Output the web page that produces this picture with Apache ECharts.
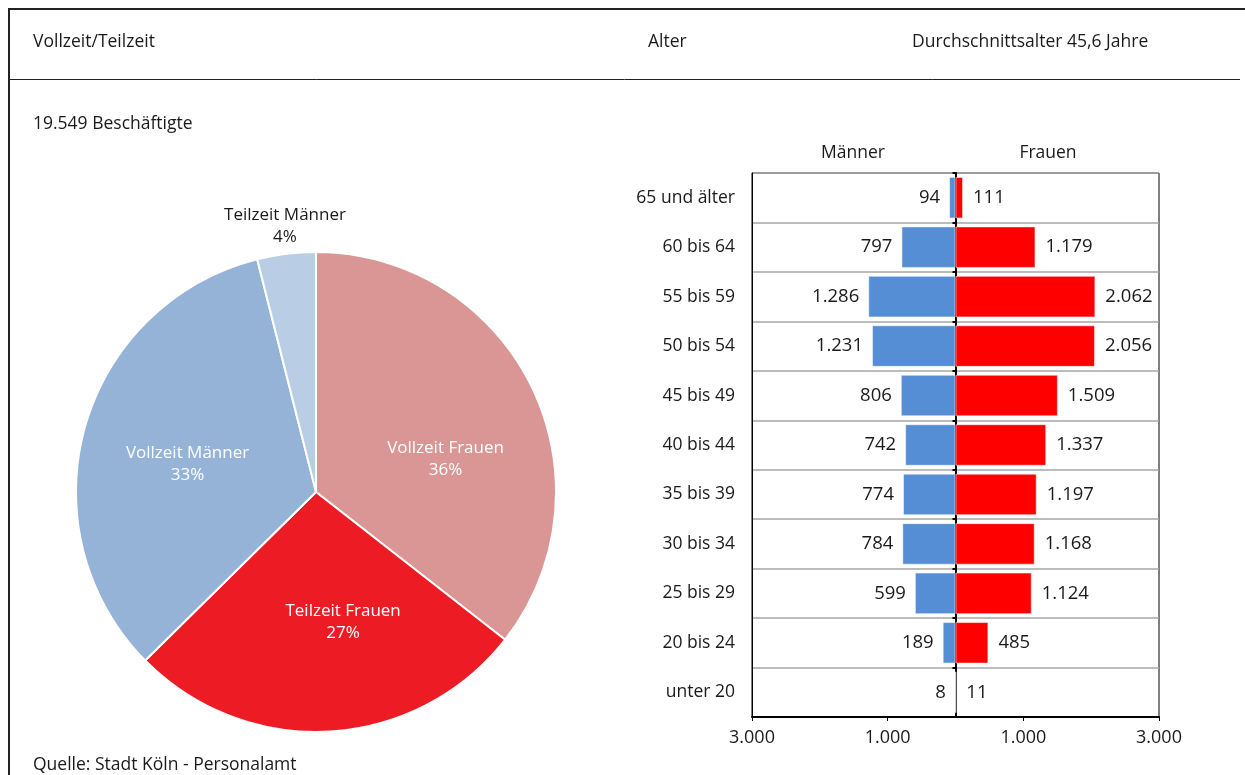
<!DOCTYPE html>
<html>
<head>
<meta charset="utf-8">
<script src="https://cdn.jsdelivr.net/npm/echarts@6/dist/echarts.min.js"></script>
<style>
html, body { margin: 0; padding: 0; background: #fff; }
#main { width: 1245px; height: 775px; }
</style>
</head>
<body>
<div id="main"></div>
<script>
// Vollzeit/Teilzeit
var pieNames = ['Vollzeit Frauen', 'Teilzeit Frauen', 'Vollzeit Männer', 'Teilzeit Männer'];
var pieValues = [6950, 5289, 6540, 770];
var pieColors = ['#d99694', '#ed1c24', '#95b3d7', '#b9cde5'];

// Alter
var ageGroups = ['65 und älter', '60 bis 64', '55 bis 59', '50 bis 54', '45 bis 49', '40 bis 44',
	'35 bis 39', '30 bis 34', '25 bis 29', '20 bis 24', 'unter 20'];
var maenner = [94, 797, 1286, 1231, 806, 742, 774, 784, 599, 189, 8];
var frauen = [111, 1179, 2062, 2056, 1509, 1337, 1197, 1168, 1124, 485, 11];
var tickValues = [-3000, -1000, 1000, 3000];

var font = '"Open Sans", "Noto Sans", sans-serif';
var textColor = '#1a1a1a';

function fmt(v) {
	v = Math.abs(v);
	return String(v).replace(/\B(?=(\d{3})+(?!\d))/g, '.');
}

// label shifts for the pie (inside labels sit a bit off the default spot)
var pieLabelShift = [
	{ dx: 19, dy: 21 },
	{ dx: 20, dy: 7 },
	{ dx: -10, dy: 5 },
	null
];

var chart = echarts.init(document.getElementById('main'));

var pieData = [];
for (var i = 0; i < pieNames.length; i++) {
	var dark = i === 3;
	pieData.push({
		name: pieNames[i],
		value: pieValues[i],
		itemStyle: { color: pieColors[i] },
		label: dark ? { position: 'outside', color: textColor } : { position: 'inside', color: '#fff' },
		labelLine: { show: false }
	});
}

function headText(txt, x, y, align) {
	return {
		type: 'text',
		silent: true,
		style: {
			text: txt, x: x, y: y,
			fill: textColor,
			fontFamily: font,
			fontSize: 17.5,
			align: align || 'left',
			verticalAlign: 'middle'
		}
	};
}

chart.setOption({
	animation: false,
	backgroundColor: '#fff',
	graphic: [
		{ type: 'line', silent: true, shape: { x1: 8, y1: 9, x2: 1245, y2: 9 }, style: { stroke: '#222', lineWidth: 2 } },
		{ type: 'line', silent: true, shape: { x1: 9, y1: 9, x2: 9, y2: 775 }, style: { stroke: '#222', lineWidth: 2 } },
		{ type: 'line', silent: true, shape: { x1: 9, y1: 79.5, x2: 1240, y2: 79.5 }, style: { stroke: '#222', lineWidth: 1 } },
		headText('Vollzeit/Teilzeit', 33, 42),
		headText('Alter', 648, 42),
		headText('Durchschnittsalter 45,6 Jahre', 912, 42),
		headText('19.549 Beschäftigte', 33, 124),
		headText('Männer', 853, 153, 'center'),
		headText('Frauen', 1048, 153, 'center'),
		headText('Quelle: Stadt Köln - Personalamt', 33, 765)
	],
	grid: {
		show: true,
		left: 752,
		right: 86,
		top: 173,
		bottom: 58,
		borderColor: '#000',
		borderWidth: 1
	},
	xAxis: {
		type: 'value',
		min: -3000,
		max: 3000,
		interval: 1000,
		axisLine: { show: true, onZero: false, lineStyle: { color: '#000', width: 2 } },
		axisTick: { show: true, length: 4, customValues: tickValues, lineStyle: { color: '#000' } },
		splitLine: { show: false },
		axisLabel: {
			customValues: tickValues,
			formatter: function (v) { return fmt(v); },
			color: textColor,
			fontFamily: font,
			fontSize: 18,
			margin: 12
		}
	},
	yAxis: [{
		type: 'category',
		inverse: true,
		data: ageGroups,
		axisLine: { show: true, onZero: false, lineStyle: { color: '#000' } },
		axisTick: { show: false },
		splitLine: { show: true, lineStyle: { color: '#a6a6a6', width: 1.5 } },
		axisLabel: { color: textColor, fontFamily: font, fontSize: 17.5, margin: 17 }
	}, {
		type: 'category',
		inverse: true,
		position: 'left',
		data: ageGroups,
		axisLine: { show: true, onZero: true, lineStyle: { color: '#000', width: 2 } },
		axisTick: { show: true, length: 3, lineStyle: { color: '#000', width: 2 } },
		splitLine: { show: false },
		axisLabel: { show: false }
	}],
	series: [{
		type: 'pie',
		center: [316, 492],
		radius: 240,
		startAngle: 90,
		clockwise: true,
		percentPrecision: 0,
		data: pieData,
		itemStyle: { borderColor: '#fff', borderWidth: 2 },
		label: {
			formatter: '{b}\n{d}%',
			fontFamily: font,
			fontSize: 17,
			lineHeight: 22,
			align: 'center'
		},
		labelLayout: function (p) {
			if (p.dataIndex === 3) {
				return { x: 285, y: 226, align: 'center', verticalAlign: 'middle' };
			}
			return pieLabelShift[p.dataIndex];
		}
	}, {
		name: 'Männer',
		type: 'bar',
		stack: 'alter',
		yAxisIndex: 0,
		barWidth: '84%',
		data: maenner.map(function (v) { return -v; }),
		itemStyle: { color: '#558ed5', borderColor: 'rgba(255,255,255,0.5)', borderWidth: 1 },
		label: {
			show: true,
			position: 'left',
			distance: 9,
			formatter: function (p) { return fmt(p.value); },
			color: textColor,
			fontFamily: font,
			fontSize: 18.5
		}
	}, {
		name: 'Frauen',
		type: 'bar',
		stack: 'alter',
		yAxisIndex: 0,
		barWidth: '84%',
		data: frauen,
		itemStyle: { color: '#ff0000', borderColor: 'rgba(255,255,255,0.5)', borderWidth: 1 },
		label: {
			show: true,
			position: 'right',
			distance: 10,
			formatter: function (p) { return fmt(p.value); },
			color: textColor,
			fontFamily: font,
			fontSize: 18.5
		}
	}]
});
</script>
</body>
</html>
